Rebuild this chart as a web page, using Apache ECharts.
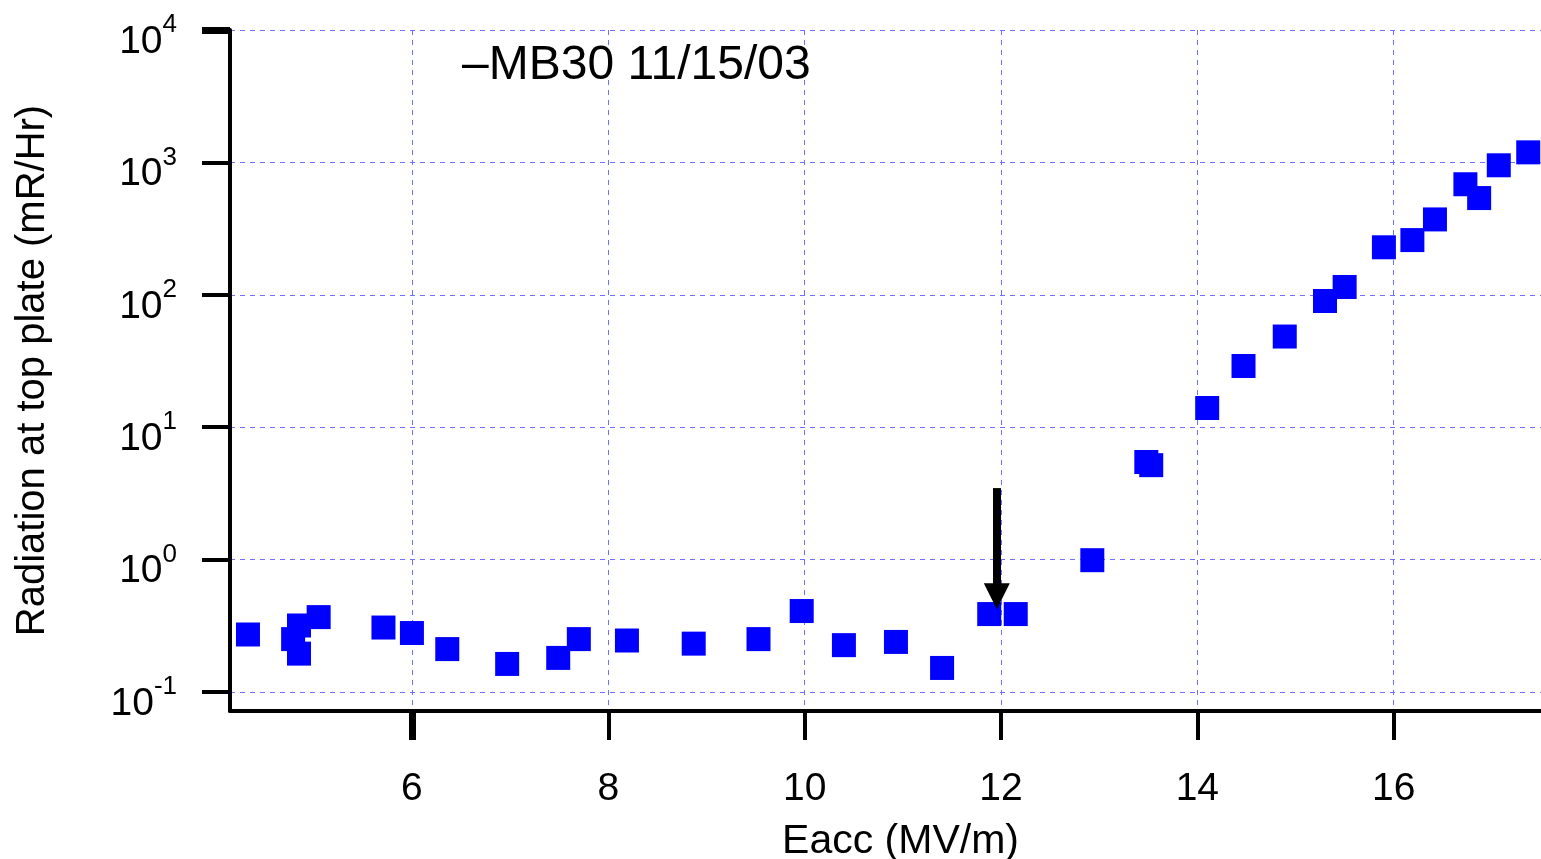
<!DOCTYPE html>
<html>
<head>
<meta charset="utf-8">
<script src="https://cdn.jsdelivr.net/npm/echarts@6/dist/echarts.min.js"></script>
<style>
html,body{margin:0;padding:0;background:#fff;}
#chart{width:1541px;height:859px;}
</style>
</head>
<body>
<div id="chart"></div>
<script>
// Eacc (MV/m)
const eacc = [4.33, 4.79, 4.85, 4.85, 5.05, 5.71, 6.00, 6.36, 6.97, 7.49, 7.70, 8.19, 8.87, 9.53, 9.97, 10.40, 10.93, 11.40, 11.88, 12.15, 12.93, 13.48, 13.53, 14.10, 14.47, 14.89, 15.30, 15.50, 15.90, 16.19, 16.42, 16.73, 16.87, 17.07, 17.37];
// Radiation at top plate (mR/Hr)
const radiation = [0.272, 0.251, 0.318, 0.195, 0.368, 0.307, 0.279, 0.211, 0.163, 0.181, 0.251, 0.245, 0.232, 0.251, 0.409, 0.226, 0.239, 0.152, 0.388, 0.388, 0.99, 5.46, 5.17, 13.97, 29.0, 48.4, 89.8, 114.6, 228.5, 259, 371, 684, 538, 951, 1191];
const xTicks = [6, 8, 10, 12, 14, 16];
const yTicks = [0.1, 1, 10, 100, 1000, 10000];
const xHeavyTick = [6];
const yHeavyTick = [10000];
const arrowFrom = [11.957, 3.47];
const arrowTo = [11.957, 0.53];
const annotation = '\u2013MB30 11/15/03';

const FONT = "'Liberation Sans', Arial, Helvetica, sans-serif";
const chart = echarts.init(document.getElementById('chart'), null, {renderer: 'canvas'});
const points = eacc.map((x, i) => [x, radiation[i]]);
const GRID_LINE = {color: '#7070ff', width: 1, type: [5, 5]};
const X_MIN = 4.147, X_MAX = 17.5, Y_MIN = 0.0719, Y_MAX = 10000;

chart.setOption({
  animation: false,
  backgroundColor: '#ffffff',
  textStyle: {fontFamily: FONT},
  title: {
    text: annotation,
    left: 462, top: 42, padding: 0,
    textStyle: {fontFamily: FONT, fontSize: 48, fontWeight: 'normal', color: '#000'}
  },
  grid: {left: 230, right: 0, top: 30, bottom: 148, containLabel: false, outerBoundsMode: 'none'},
  xAxis: [{
    type: 'value',
    min: X_MIN, max: X_MAX,
    name: 'Eacc (MV/m)',
    nameLocation: 'middle',
    nameGap: 110,
    nameTextStyle: {fontFamily: FONT, fontSize: 41, color: '#000', padding: [0, 0, 0, 30]},
    axisLine: {show: true, onZero: false, lineStyle: {color: '#000', width: 4}},
    axisTick: {show: true, inside: false, length: 29, customValues: xTicks, lineStyle: {color: '#000', width: 4}},
    axisLabel: {show: true, margin: 59, fontSize: 39, color: '#000', fontFamily: FONT, customValues: xTicks},
    splitLine: {show: true, lineStyle: GRID_LINE}
  }, {
    type: 'value',
    position: 'bottom',
    min: X_MIN, max: X_MAX,
    axisLine: {show: false, onZero: false},
    axisTick: {show: true, inside: false, length: 29, customValues: xHeavyTick, lineStyle: {color: '#000', width: 7}},
    axisLabel: {show: false},
    splitLine: {show: false}
  }],
  yAxis: [{
    type: 'log',
    logBase: 10,
    min: Y_MIN, max: Y_MAX,
    name: 'Radiation at top plate (mR/Hr)',
    nameLocation: 'middle',
    nameGap: 177,
    nameTextStyle: {fontFamily: FONT, fontSize: 40, color: '#000'},
    axisLine: {show: true, onZero: false, lineStyle: {color: '#000', width: 4}},
    axisTick: {show: true, inside: false, length: 28, customValues: yTicks, lineStyle: {color: '#000', width: 4}},
    axisLabel: {
      show: true, margin: 53, color: '#000', fontFamily: FONT,
      customValues: yTicks,
      padding: [24, 0, 0, 0],
      formatter: function (v) {
        const e = Math.round(Math.log10(v));
        return '{b|10}{s|' + e + '}';
      },
      rich: {
        b: {fontSize: 39, lineHeight: 39, fontFamily: FONT, color: '#000'},
        s: {fontSize: 26, lineHeight: 26, padding: [0, 0, 34, 0], fontFamily: FONT, color: '#000'}
      }
    },
    splitLine: {show: true, lineStyle: GRID_LINE}
  }, {
    type: 'log',
    logBase: 10,
    position: 'left',
    min: Y_MIN, max: Y_MAX,
    axisLine: {show: false, onZero: false},
    axisTick: {show: true, inside: false, length: 28, customValues: yHeavyTick, lineStyle: {color: '#000', width: 7}},
    axisLabel: {show: false},
    splitLine: {show: false}
  }],
  series: [{
    type: 'scatter',
    xAxisIndex: 0,
    yAxisIndex: 0,
    data: points,
    symbol: 'rect',
    symbolSize: 24,
    itemStyle: {color: '#0000ff', opacity: 1},
    silent: true,
    markLine: {
      silent: true,
      symbol: ['none', 'triangle'],
      symbolSize: [26, 26],
      label: {show: false},
      lineStyle: {color: '#000', width: 8, type: 'solid', opacity: 1},
      emphasis: {disabled: true},
      data: [[{coord: arrowFrom}, {coord: arrowTo}]]
    }
  }]
});
</script>
</body>
</html>
